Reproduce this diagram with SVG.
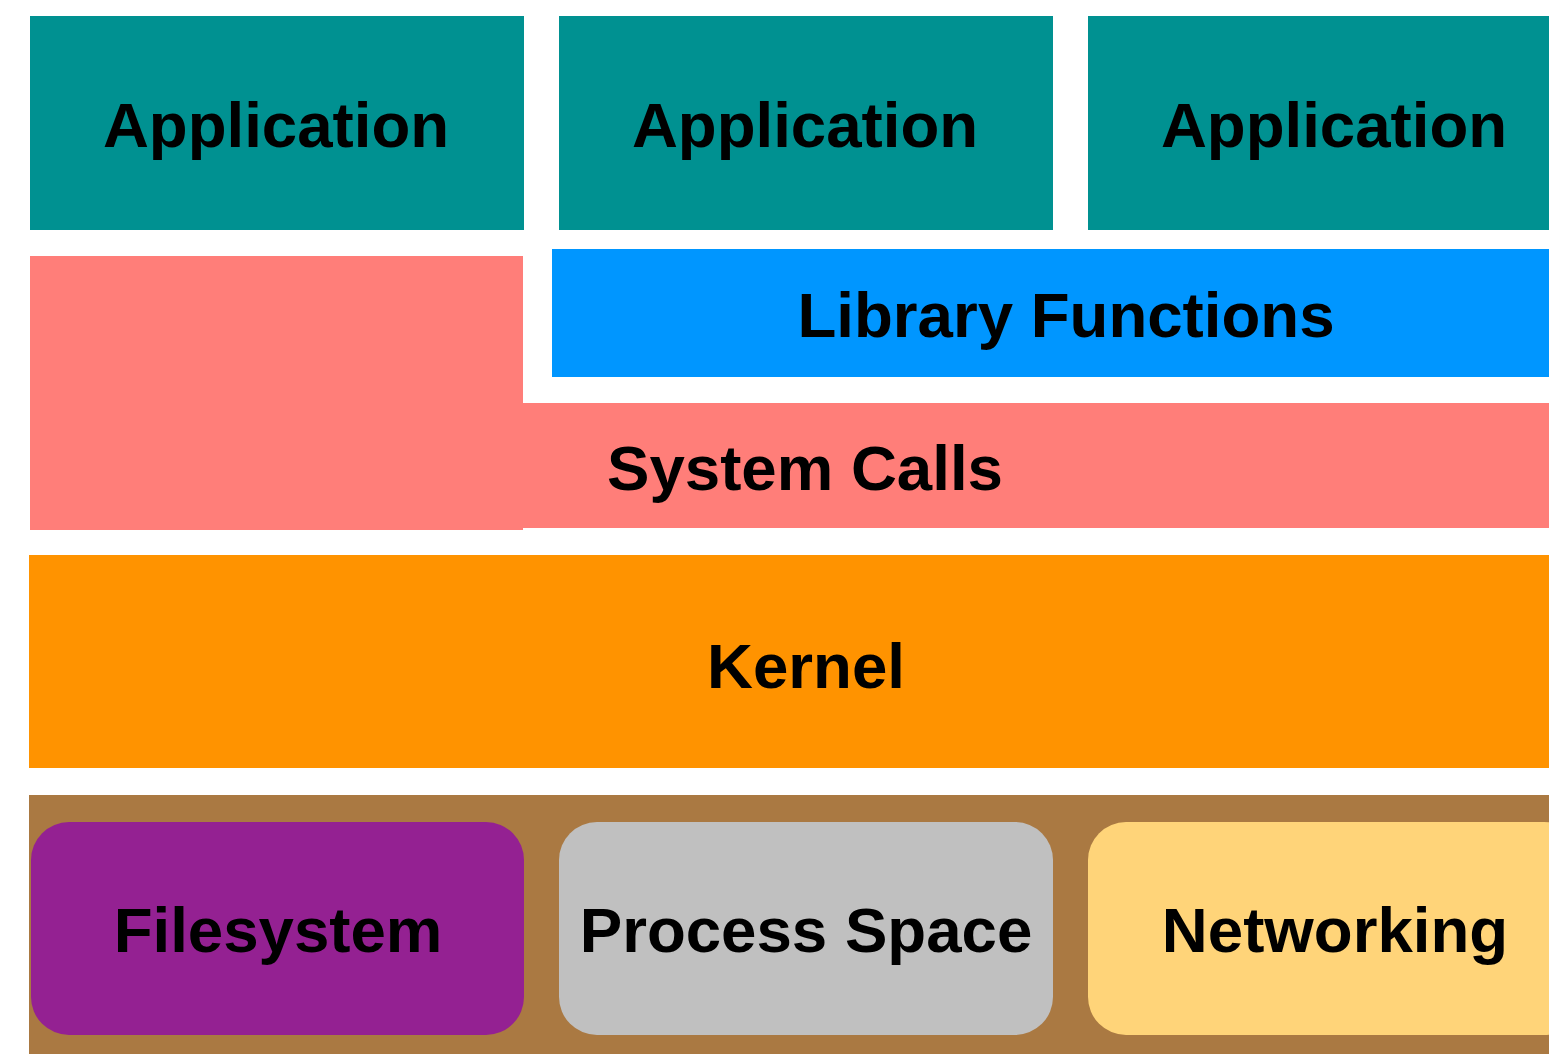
<svg xmlns="http://www.w3.org/2000/svg" width="1549" height="1054" viewBox="0 0 1549 1054">
<style>
text{font-family:"Liberation Sans",Arial,sans-serif;font-weight:bold;font-size:63.6px;fill:#000;text-anchor:middle}
.app{fill:#009191}
</style>
<rect width="1549" height="1054" fill="#fff"/>
<g id="app1"><rect class="app" x="30" y="16" width="494" height="214"/><text x="276" y="147">Application</text></g>
<g id="app2"><rect class="app" x="559" y="16" width="494" height="214"/><text x="805" y="147">Application</text></g>
<g id="app3"><rect class="app" x="1088" y="16" width="494" height="214"/><text x="1334" y="147">Application</text></g>
<g id="library"><rect x="552" y="249" width="1030" height="128" fill="#0096FF"/><text x="1066" y="337">Library Functions</text></g>
<g id="syscalls"><path d="M30 256H523V403H1582V528H523V530H30Z" fill="#FF7E79"/><text x="805" y="490">System Calls</text></g>
<g id="kernel"><rect x="29" y="555" width="1553" height="213" fill="#FF9300"/><text x="806" y="688">Kernel</text></g>
<g id="base"><rect x="29" y="795" width="1553" height="259" fill="#AA7942"/></g>
<g id="filesystem"><rect x="31" y="822" width="493" height="213" rx="38" fill="#942192"/><text x="278" y="952">Filesystem</text></g>
<g id="process"><rect x="559" y="822" width="494" height="213" rx="38" fill="#C0C0C0"/><text x="806" y="952">Process Space</text></g>
<g id="networking"><rect x="1088" y="822" width="494" height="213" rx="38" fill="#FFD479"/><text x="1335" y="952">Networking</text></g>
<g id="connectors"></g>
</svg>
